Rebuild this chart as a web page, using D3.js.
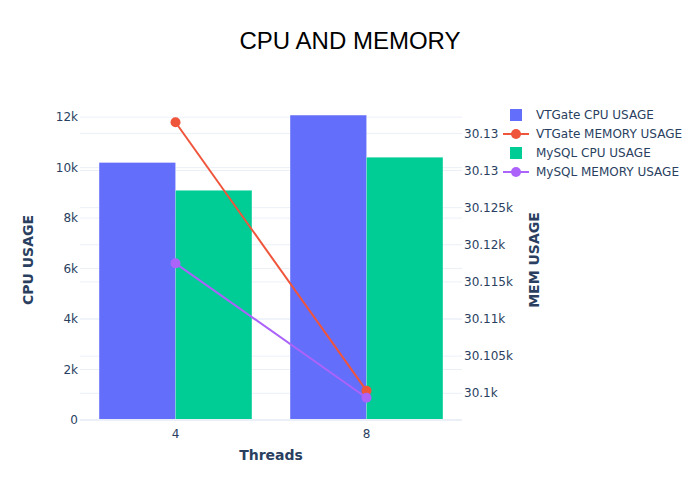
<!DOCTYPE html>
<html>
<head>
<meta charset="utf-8">
<script src="https://cdn.jsdelivr.net/npm/d3@7"></script>
<style>
  body { margin: 0; background: #fff; }
  text { font-family: "DejaVu Sans", Verdana, sans-serif; }
</style>
</head>
<body>
<svg id="chart" width="700" height="500"></svg>
<script>
const categories = ["4", "8"];
const vtgateCpu = [10200, 12080];
const mysqlCpu = [9100, 10410];
const vtgateMem = [30136.5, 30100.35];
const mysqlMem = [30117.5, 30099.4];
const leftTicks = [0, 2000, 4000, 6000, 8000, 10000, 12000];
const leftTickLabels = ["0", "2k", "4k", "6k", "8k", "10k", "12k"];
const rightTicks = [30100, 30105, 30110, 30115, 30120, 30125, 30130, 30135];
const rightTickLabels = ["30.1k", "30.105k", "30.11k", "30.115k", "30.12k", "30.125k", "30.13", "30.13"];
const seriesNames = ["VTGate CPU USAGE", "VTGate MEMORY USAGE", "MySQL CPU USAGE", "MySQL MEMORY USAGE"];

const colors = { vtCpu: "#636efa", vtMem: "#ef553b", myCpu: "#00cc96", myMem: "#ab63fa" };
const textColor = "#2a3f5f";
const gridColor = "#ebf0f8";

const svg = d3.select("#chart");
const plot = { left: 80, right: 462, top: 100, bottom: 420 };

const xCat = d3.scaleBand().domain(categories).range([plot.left, plot.right]);
const groupW = xCat.bandwidth() * 0.8;
const xSub = d3.scaleBand().domain(["vt", "my"]).range([0, groupW]);

const yL = d3.scaleLinear().domain([0, 12680]).range([plot.bottom, plot.top]);
const yR = d3.scaleLinear().domain([30096.4, 30139.5]).range([plot.bottom, plot.top]);

// gridlines (right axis)
svg.append("g").selectAll("line").data(rightTicks).join("line")
  .attr("x1", plot.left).attr("x2", plot.right)
  .attr("y1", d => yR(d)).attr("y2", d => yR(d))
  .attr("stroke", gridColor).attr("stroke-width", 1);
// gridlines (left axis)
svg.append("g").selectAll("line").data(leftTicks.filter(d => d !== 0)).join("line")
  .attr("x1", plot.left).attr("x2", plot.right)
  .attr("y1", d => yL(d)).attr("y2", d => yL(d))
  .attr("stroke", gridColor).attr("stroke-width", 1);

// bars
const barData = [];
categories.forEach((c, i) => {
  barData.push({ cat: c, key: "vt", v: vtgateCpu[i], color: colors.vtCpu });
  barData.push({ cat: c, key: "my", v: mysqlCpu[i], color: colors.myCpu });
});
svg.append("g").selectAll("rect").data(barData).join("rect")
  .attr("x", d => xCat(d.cat) + (xCat.bandwidth() - groupW) / 2 + xSub(d.key))
  .attr("width", xSub.bandwidth())
  .attr("y", d => yL(d.v))
  .attr("height", d => yL(0) - yL(d.v))
  .attr("fill", d => d.color)
  .attr("stroke", "rgba(255,255,255,0.35)")
  .attr("stroke-width", 0.5);

// zero line
svg.append("line").attr("x1", plot.left).attr("x2", plot.right)
  .attr("y1", yL(0)).attr("y2", yL(0)).attr("stroke", gridColor).attr("stroke-width", 2);

// lines
const cx = c => xCat(c) + xCat.bandwidth() / 2;
function drawLine(vals, color) {
  const pts = categories.map((c, i) => [cx(c), yR(vals[i])]);
  svg.append("path").datum(pts).attr("d", d3.line())
    .attr("fill", "none").attr("stroke", color).attr("stroke-width", 2);
  svg.append("g").selectAll("circle").data(pts).join("circle")
    .attr("cx", d => d[0]).attr("cy", d => d[1]).attr("r", 5).attr("fill", color);
}
drawLine(vtgateMem, colors.vtMem);
drawLine(mysqlMem, colors.myMem);

// left axis labels
svg.append("g").selectAll("text").data(leftTicks).join("text")
  .attr("x", plot.left - 2).attr("y", d => yL(d)).attr("dy", "0.35em")
  .attr("text-anchor", "end").attr("font-size", 12).attr("fill", textColor)
  .text((d, i) => leftTickLabels[i]);
// right axis labels
svg.append("g").selectAll("text").data(rightTicks).join("text")
  .attr("x", plot.right + 2).attr("y", d => yR(d)).attr("dy", "0.35em")
  .attr("text-anchor", "start").attr("font-size", 12).attr("fill", textColor)
  .text((d, i) => rightTickLabels[i]);
// x axis labels
svg.append("g").selectAll("text").data(categories).join("text")
  .attr("x", d => cx(d)).attr("y", plot.bottom + 18)
  .attr("text-anchor", "middle").attr("font-size", 12).attr("fill", textColor)
  .text(d => d);

// axis titles
svg.append("text").attr("x", (plot.left + plot.right) / 2).attr("y", 460)
  .attr("text-anchor", "middle").attr("font-size", 14).attr("font-weight", "bold")
  .attr("fill", textColor).text("Threads");
svg.append("text").attr("transform", `translate(33,${(plot.top + plot.bottom) / 2}) rotate(-90)`)
  .attr("text-anchor", "middle").attr("font-size", 14).attr("font-weight", "bold")
  .attr("fill", textColor).text("CPU USAGE");
svg.append("text").attr("transform", `translate(539,${(plot.top + plot.bottom) / 2}) rotate(-90)`)
  .attr("text-anchor", "middle").attr("font-size", 14).attr("font-weight", "bold")
  .attr("fill", textColor).text("MEM USAGE");

// title
svg.append("text").attr("x", 350).attr("y", 49)
  .attr("text-anchor", "middle").attr("font-size", 24)
  .style("font-family", "'Liberation Sans', Arial, sans-serif")
  .attr("fill", "#000").text("CPU AND MEMORY");

// legend
const legend = svg.append("g").attr("transform", "translate(503,115)");
const legendTypes = ["bar", "line", "bar", "line"];
const legendColors = [colors.vtCpu, colors.vtMem, colors.myCpu, colors.myMem];
seriesNames.forEach((name, i) => {
  const g = legend.append("g").attr("transform", `translate(0,${i * 19})`);
  if (legendTypes[i] === "bar") {
    g.append("rect").attr("x", 7).attr("y", -6).attr("width", 12).attr("height", 12)
      .attr("fill", legendColors[i]);
  } else {
    g.append("line").attr("x1", 0).attr("x2", 26).attr("y1", 0).attr("y2", 0)
      .attr("stroke", legendColors[i]).attr("stroke-width", 2);
    g.append("circle").attr("cx", 13).attr("cy", 0).attr("r", 5).attr("fill", legendColors[i]);
  }
  g.append("text").attr("x", 33).attr("y", 0).attr("dy", "0.35em")
    .attr("font-size", 12).attr("fill", textColor).text(name);
});
</script>
</body>
</html>
